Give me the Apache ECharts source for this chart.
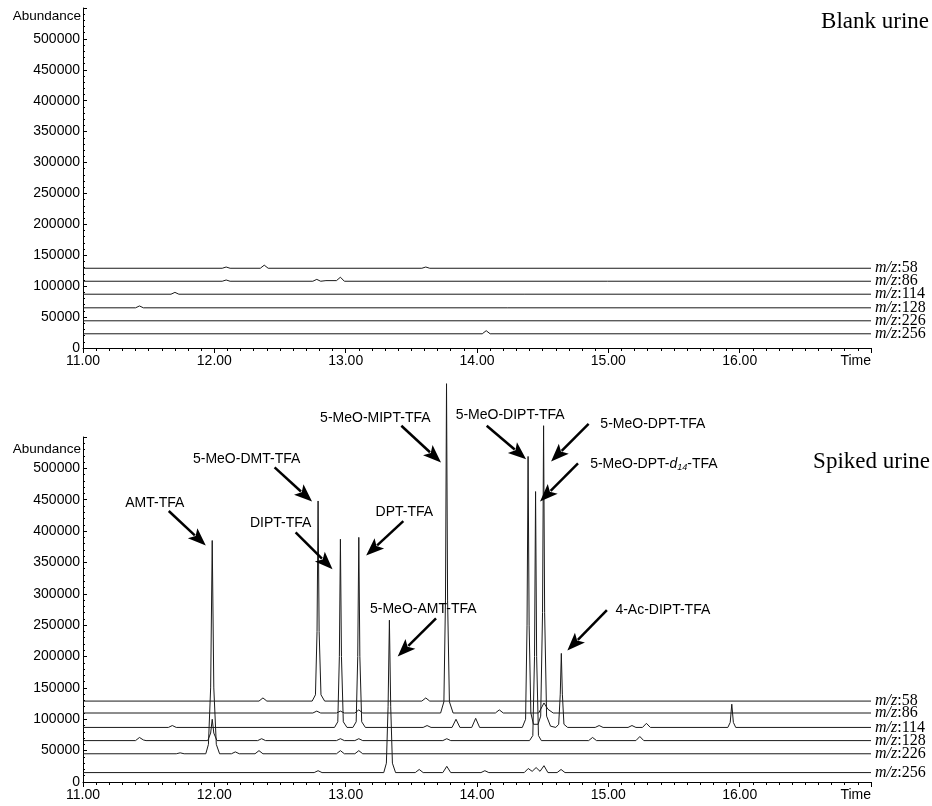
<!DOCTYPE html>
<html>
<head>
<meta charset="utf-8">
<script src="https://cdn.jsdelivr.net/npm/echarts@6/dist/echarts.min.js"></script>
<style>
html,body{margin:0;padding:0;background:#fff;}
#chart{width:932px;height:806px;}
</style>
</head>
<body>
<div id="chart"></div>
<script>
// ion traces as [time (min), abundance]
const ions = ['58', '86', '114', '128', '226', '256'];

const blank58 = [[11,129000],[12.06,129000],[12.09,131000],[12.12,129000],[12.35,129000],[12.38,134000],[12.41,129000],[13.58,129000],[13.61,131000],[13.64,129000],[17,129000]];
const blank86 = [[11,108000],[12.06,108000],[12.09,110000],[12.12,108000],[12.75,108000],[12.78,111000],[12.81,108000],[12.85,109000],[12.93,109000],[12.96,114500],[12.99,108000],[17,108000]];
const blank114 = [[11,87000],[11.67,87000],[11.70,90000],[11.73,87000],[17,87000]];
const blank128 = [[11,65000],[11.40,65000],[11.43,68000],[11.46,65000],[17,65000]];
const blank226 = [[11,44000],[17,44000]];
const blank256 = [[11,23000],[14.04,23000],[14.07,28000],[14.10,23000],[17,23000]];

const spiked58 = [[11,129000],[12.34,129000],[12.37,134000],[12.40,129000],[12.745,129000],[12.77,139000],[12.782,240000],[12.79,448000],[12.798,240000],[12.812,139000],[12.84,129000],[13.58,129000],[13.61,134000],[13.64,129000],[17,129000]];
const spiked86 = [[11,110000],[12.75,110000],[12.78,113000],[12.81,110000],[12.93,110000],[12.96,113000],[12.99,110000],[13.07,110000],[13.10,115000],[13.13,110000],[13.723,110000],[13.748,128000],[13.76,290000],[13.768,635000],[13.776,290000],[13.79,128000],[13.818,110000],[14.14,110000],[14.17,115000],[14.20,110000],[14.47,110000],[14.51,126000],[14.54,116000],[14.58,110000],[17,110000]];
const spiked114 = [[11,87000],[11.65,87000],[11.68,90000],[11.71,87000],[12.915,87000],[12.94,96000],[12.952,200000],[12.96,387000],[12.968,200000],[12.982,96000],[13.01,87000],[13.055,87000],[13.08,96000],[13.092,200000],[13.10,390000],[13.108,200000],[13.122,96000],[13.15,87000],[13.59,87000],[13.62,90000],[13.65,87000],[13.81,87000],[13.84,100000],[13.87,87000],[13.96,87000],[13.99,101500],[14.02,87000],[14.345,87000],[14.37,100000],[14.381,250000],[14.389,519000],[14.397,250000],[14.41,110000],[14.43,92000],[14.465,92000],[14.485,105000],[14.499,270000],[14.507,568000],[14.515,270000],[14.53,105000],[14.56,89000],[14.60,87000],[14.622,92000],[14.634,140000],[14.642,205000],[14.65,140000],[14.662,92000],[14.69,87000],[14.90,87000],[14.93,90000],[14.96,87000],[15.15,87000],[15.18,90000],[15.21,87000],[15.26,87000],[15.29,93500],[15.32,87000],[15.91,87000],[15.928,95000],[15.94,124000],[15.952,95000],[15.97,87000],[17,87000]];
const spiked128 = [[11,66000],[11.40,66000],[11.43,71000],[11.46,67000],[11.48,66000],[11.95,66000],[11.972,78000],[11.984,100000],[11.996,78000],[12.02,66000],[12.33,66000],[12.36,69000],[12.39,66000],[12.93,66000],[12.96,69000],[12.99,66000],[13.07,66000],[13.10,69000],[13.13,66000],[13.74,66000],[13.77,69000],[13.80,66000],[14.40,66000],[14.425,74000],[14.438,200000],[14.446,463000],[14.454,200000],[14.468,74000],[14.49,66000],[14.85,66000],[14.88,71000],[14.91,66000],[15.21,66000],[15.24,72500],[15.27,66000],[17,66000]];
const spiked226 = [[11,45000],[11.71,45000],[11.74,46500],[11.77,45000],[11.935,45000],[11.955,60000],[11.972,150000],[11.984,385000],[11.996,150000],[12.015,60000],[12.04,45000],[12.13,45000],[12.16,48000],[12.19,45000],[12.31,45000],[12.34,50000],[12.37,45000],[12.93,45000],[12.96,50000],[12.99,45000],[13.07,45000],[13.10,50000],[13.13,45000],[17,45000]];
const spiked256 = [[11,15000],[12.76,15000],[12.79,18000],[12.82,15000],[13.29,15000],[13.31,30000],[13.323,120000],[13.333,258000],[13.343,120000],[13.356,30000],[13.38,15000],[13.53,15000],[13.56,20000],[13.59,15000],[13.74,15000],[13.77,25000],[13.80,15000],[14.03,15000],[14.06,18000],[14.09,15000],[14.36,15000],[14.39,21500],[14.42,17000],[14.45,23000],[14.48,17000],[14.51,26000],[14.54,15000],[14.61,15000],[14.64,20000],[14.67,15000],[17,15000]];

const blankTraces = [blank58, blank86, blank114, blank128, blank226, blank256];
const spikedTraces = [spiked58, spiked86, spiked114, spiked128, spiked226, spiked256];

// peak names: [text, label t, label abundance, arrow tail t, tail abundance, arrow tip t, tip abundance]
const peakNotes = [
  ['AMT-TFA', 11.547, 445000, 11.653, 432000, 11.935, 377000],
  ['5-MeO-DMT-TFA', 12.246, 514500, 12.459, 501500, 12.744, 447000],
  ['DIPT-TFA', 12.505, 413000, 12.619, 398000, 12.900, 339000],
  ['DPT-TFA', 13.447, 430500, 13.439, 416000, 13.156, 361000],
  ['5-MeO-MIPT-TFA', 13.226, 580500, 13.424, 568000, 13.726, 509500],
  ['5-MeO-DIPT-TFA', 14.252, 585500, 14.074, 568000, 14.374, 514500],
  ['5-MeO-DPT-TFA', 15.339, 571000, 14.85, 571000, 14.564, 511000],
  ['5-MeO-DPT-{i|d}{s|14}-TFA', 15.347, 506500, 14.769, 508000, 14.48, 447000],
  ['5-MeO-AMT-TFA', 13.591, 276000, 13.688, 261000, 13.396, 200000],
  ['4-Ac-DIPT-TFA', 15.415, 274000, 14.989, 274000, 14.688, 209500]
];

const sans = 'Liberation Sans, Arial, sans-serif';
const serif = 'Liberation Serif, Times New Roman, serif';

function makeX(gi) {
  return {
    type: 'value', gridIndex: gi, min: 11, max: 17, interval: 1,
    axisLine: { lineStyle: { color: '#000', width: 1 } },
    axisTick: { length: 5, lineStyle: { color: '#000' } },
    minorTick: { show: true, splitNumber: 10, length: 3, lineStyle: { color: '#000' } },
    splitLine: { show: false },
    axisLabel: {
      color: '#000', fontSize: 14, fontFamily: sans, margin: 6,
      showMaxLabel: true, alignMaxLabel: 'right',
      formatter: v => v >= 17 ? 'Time' : v.toFixed(2)
    }
  };
}
function makeY(gi) {
  return {
    type: 'value', gridIndex: gi, min: 0, max: 550000, interval: 50000,
    axisLine: { show: true, lineStyle: { color: '#000', width: 1 } },
    axisTick: { show: true, inside: true, length: 4, lineStyle: { color: '#000' } },
    minorTick: { show: true, splitNumber: 5, length: 2, lineStyle: { color: '#000' } },
    splitLine: { show: false },
    axisLabel: {
      color: '#000', fontSize: 14, fontFamily: sans, margin: 3,
      formatter: v => v > 500000 ? '' : String(v)
    }
  };
}
function traceSeries(data, ion, gi) {
  return {
    type: 'line', xAxisIndex: gi, yAxisIndex: gi, data: data,
    showSymbol: false, symbol: 'none', clip: false,
    lineStyle: { color: '#1a1a1a', width: 1 },
    endLabel: {
      show: true, distance: 4, color: '#000',
      formatter: '{i|m/z}{n|:' + ion + '}',
      rich: {
        i: { fontFamily: serif, fontStyle: 'italic', fontSize: 16, color: '#000' },
        n: { fontFamily: serif, fontSize: 16, color: '#000' }
      }
    },
    silent: true
  };
}

const series = [];
blankTraces.forEach((d, i) => series.push(traceSeries(d, ions[i], 0)));
spikedTraces.forEach((d, i) => series.push(traceSeries(d, ions[i], 1)));

const chart = echarts.init(document.getElementById('chart'), null, { renderer: 'canvas' });
chart.setOption({
  animation: false,
  backgroundColor: '#fff',
  grid: [
    { left: 83, right: 61, top: 8, height: 340 },
    { left: 83, right: 61, top: 437, height: 345 }
  ],
  xAxis: [makeX(0), makeX(1)],
  yAxis: [makeY(0), makeY(1)],
  series: series
});

// annotations: titles, axis captions, peak names with arrows
const graphics = [
  { type: 'text', x: 929, y: 22, style: { text: 'Blank urine', fontFamily: serif, fontSize: 23, fill: '#000', align: 'right', verticalAlign: 'middle' } },
  { type: 'text', x: 930, y: 462, style: { text: 'Spiked urine', fontFamily: serif, fontSize: 23, fill: '#000', align: 'right', verticalAlign: 'middle' } },
  { type: 'text', x: 81, y: 16, style: { text: 'Abundance', fontFamily: sans, fontSize: 13.5, fill: '#000', align: 'right', verticalAlign: 'middle' } },
  { type: 'text', x: 81, y: 449, style: { text: 'Abundance', fontFamily: sans, fontSize: 13.5, fill: '#000', align: 'right', verticalAlign: 'middle' } }
];

peakNotes.forEach(n => {
  const lp = chart.convertToPixel({ gridIndex: 1 }, [n[1], n[2]]);
  const tp = chart.convertToPixel({ gridIndex: 1 }, [n[3], n[4]]);
  const hp = chart.convertToPixel({ gridIndex: 1 }, [n[5], n[6]]);
  graphics.push({
    type: 'text', x: lp[0], y: lp[1], z: 10,
    style: {
      text: n[0], fontFamily: sans, fontSize: 14, fill: '#000', align: 'center', verticalAlign: 'middle',
      rich: {
        i: { fontFamily: sans, fontSize: 14, fontStyle: 'italic', fill: '#000' },
        s: { fontFamily: sans, fontSize: 9, fontStyle: 'italic', fill: '#000', padding: [7, 0, 0, 0] }
      }
    }
  });
  const dx = hp[0] - tp[0], dy = hp[1] - tp[1];
  const len = Math.sqrt(dx * dx + dy * dy);
  const ux = dx / len, uy = dy / len;
  const L = 18, W = 7;
  const bx = hp[0] - ux * L, by = hp[1] - uy * L;
  graphics.push({
    type: 'line', z: 10,
    shape: { x1: tp[0], y1: tp[1], x2: bx + ux * 3, y2: by + uy * 3 },
    style: { stroke: '#000', lineWidth: 2.5 }
  });
  graphics.push({
    type: 'polygon', z: 10,
    shape: { points: [[hp[0], hp[1]], [bx - uy * W, by + ux * W], [bx + ux * 4, by + uy * 4], [bx + uy * W, by - ux * W]] },
    style: { fill: '#000' }
  });
});

chart.setOption({ graphic: graphics });
</script>
</body>
</html>
